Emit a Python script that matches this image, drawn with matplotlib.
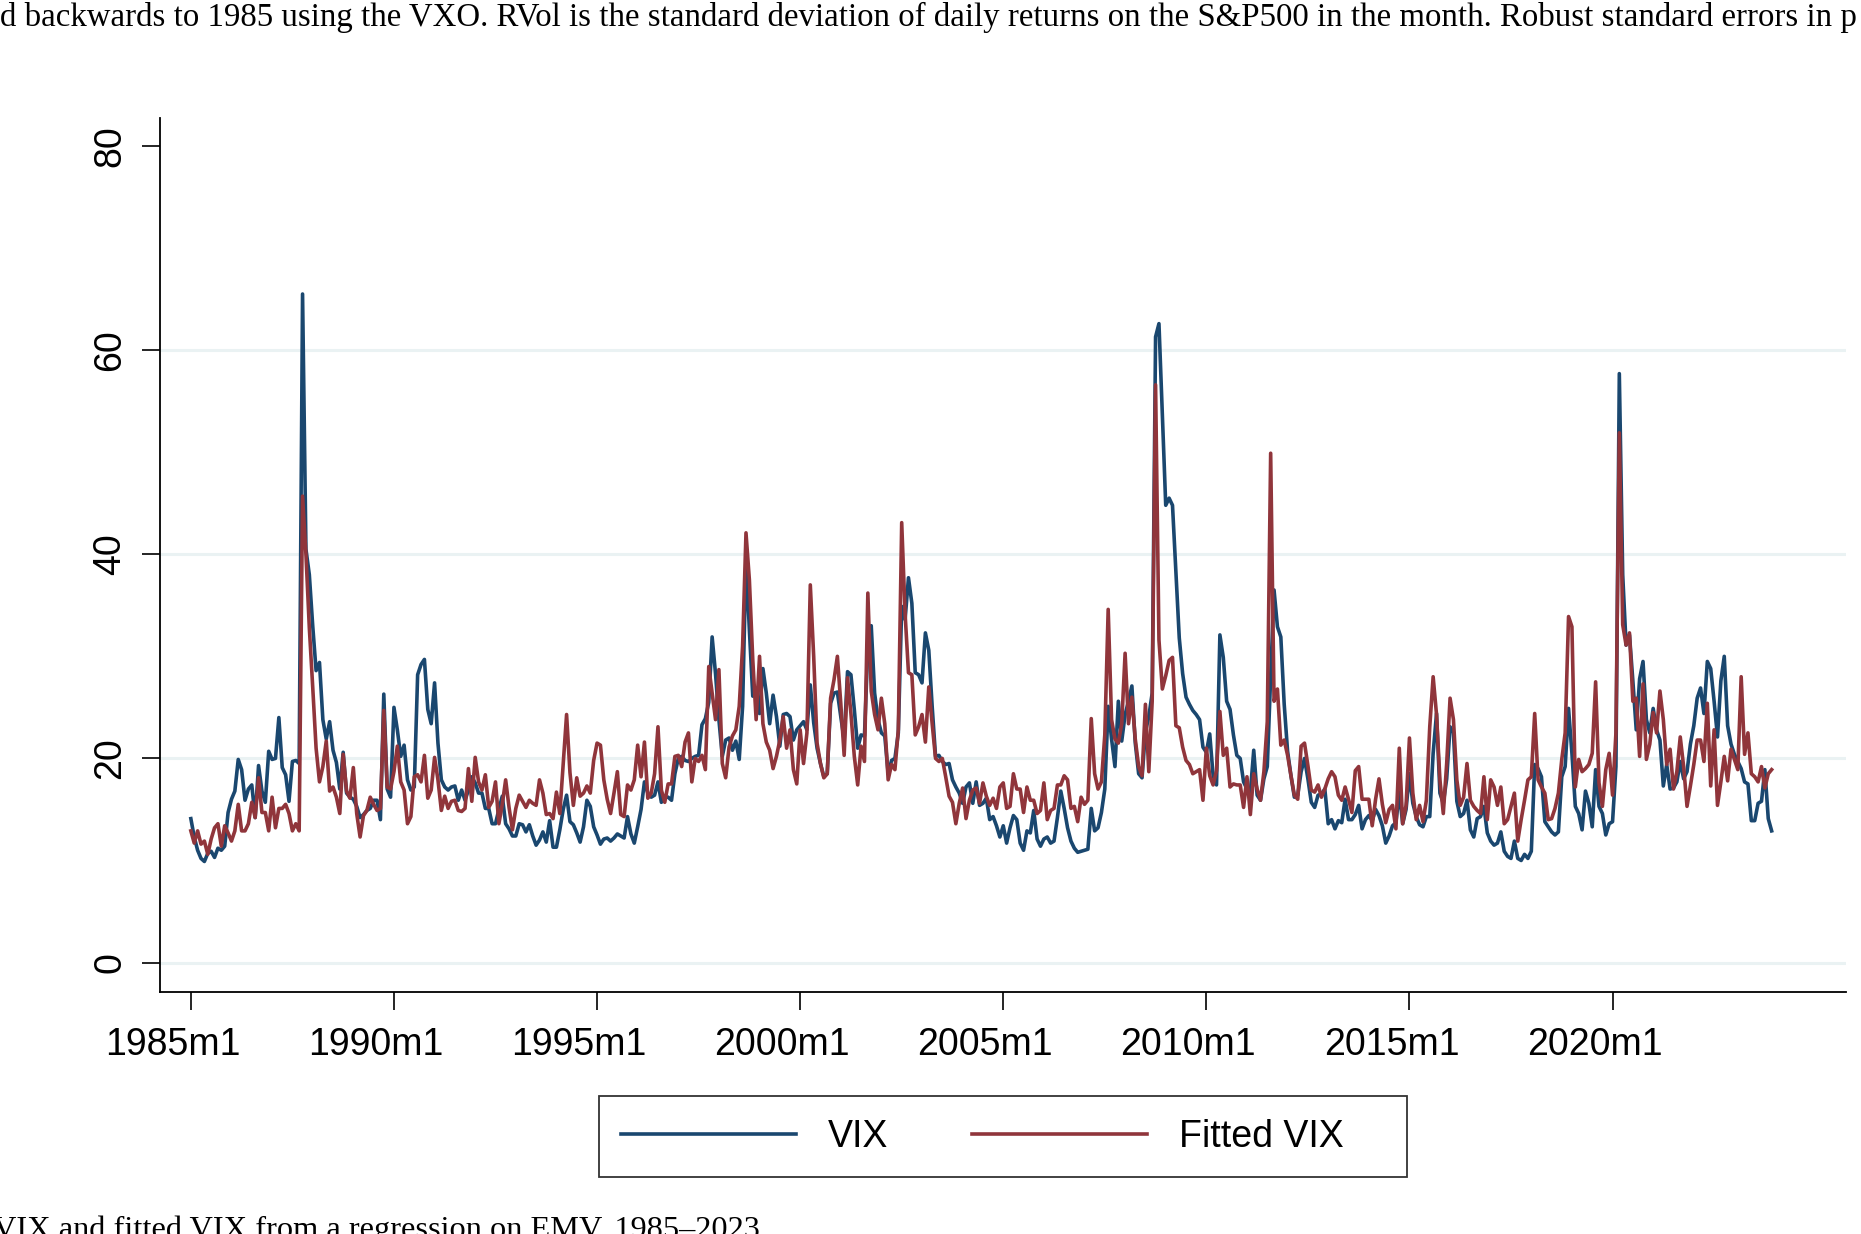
import matplotlib
matplotlib.use("Agg")
import matplotlib.pyplot as plt
from matplotlib.transforms import ScaledTranslation
import numpy as np

# ---- data (monthly, 1985m1 .. 2023m12) ----
years = list(range(1985, 2024))
tick_labels = ["1985m1", "1990m1", "1995m1", "2000m1", "2005m1", "2010m1", "2015m1", "2020m1"]
y_ticks = [0, 20, 40, 60, 80]

vix = [
    14.1, 12.3, 11.0, 10.2, 9.9, 10.7, 10.9, 10.3, 11.2, 11.0, 11.4, 14.7,   # 1985
    16.0, 16.8, 19.9, 18.9, 15.9, 17.0, 17.4, 14.2, 19.3, 16.8, 15.7, 20.7,  # 1986
    19.9, 20.0, 24.0, 19.1, 18.4, 15.8, 19.7, 19.8, 19.5, 65.5, 40.5, 38.0,  # 1987
    33.0, 28.6, 29.4, 23.8, 21.9, 23.6, 20.8, 19.6, 17.0, 20.6, 16.6, 16.2,  # 1988
    16.0, 15.3, 14.2, 14.5, 14.9, 15.1, 15.9, 15.9, 14.0, 26.3, 17.0, 16.2,  # 1989
    25.0, 22.8, 20.2, 21.3, 17.9, 16.9, 17.2, 28.2, 29.2, 29.7, 24.8, 23.4,  # 1990
    27.4, 21.5, 17.9, 17.2, 16.9, 17.2, 17.3, 15.9, 16.9, 15.9, 16.9, 18.2,  # 1991
    17.6, 16.6, 16.6, 15.1, 15.1, 13.6, 13.6, 15.0, 16.3, 13.6, 13.1, 12.4,  # 1992
    12.4, 13.6, 13.5, 12.8, 13.5, 12.4, 11.5, 12.0, 12.8, 11.8, 13.9, 11.3,  # 1993
    11.3, 13.0, 15.0, 16.4, 13.8, 13.5, 12.7, 11.8, 13.3, 15.9, 15.3, 13.3,  # 1994
    12.5, 11.6, 12.1, 12.2, 11.9, 12.2, 12.6, 12.4, 12.2, 14.3, 12.6, 11.7,  # 1995
    13.3, 15.0, 17.7, 16.6, 16.2, 16.4, 17.7, 15.7, 16.2, 16.2, 15.9, 18.5,  # 1996
    20.0, 20.2, 19.8, 19.7, 20.0, 20.2, 20.3, 23.3, 23.9, 25.5, 31.9, 28.3,  # 1997
    23.8, 20.2, 21.8, 22.0, 20.8, 21.7, 19.9, 25.1, 39.5, 32.6, 26.1, 26.4,  # 1998
    24.4, 28.8, 26.4, 23.4, 26.2, 24.1, 21.2, 24.3, 24.4, 24.1, 21.8, 22.8,  # 1999
    23.2, 23.6, 22.8, 27.2, 23.5, 21.0, 19.5, 18.2, 18.5, 25.4, 26.4, 26.5,  # 2000
    24.1, 21.8, 28.5, 28.2, 24.8, 21.0, 22.3, 22.2, 31.0, 33.0, 26.4, 23.8,  # 2001
    22.5, 22.2, 18.5, 19.8, 20.0, 22.5, 34.9, 33.6, 37.7, 35.2, 28.4, 28.2,  # 2002
    27.4, 32.3, 30.6, 25.1, 20.2, 20.3, 19.7, 19.4, 19.5, 17.9, 17.2, 16.6,  # 2003
    15.6, 17.2, 17.6, 15.6, 17.7, 15.4, 15.6, 16.1, 14.0, 14.3, 13.4, 12.3,  # 2004
    13.4, 11.7, 13.2, 14.4, 14.0, 11.7, 11.0, 12.9, 12.7, 14.9, 12.1, 11.4,  # 2005
    12.1, 12.3, 11.7, 11.9, 14.2, 16.8, 15.1, 13.2, 11.9, 11.2, 10.8, 10.9,  # 2006
    11.0, 11.1, 15.1, 12.9, 13.2, 14.7, 17.0, 25.1, 21.9, 19.2, 25.6, 21.7,  # 2007
    24.3, 25.6, 27.1, 21.5, 18.5, 18.1, 22.6, 24.1, 26.4, 61.3, 62.6, 53.8,  # 2008
    44.8, 45.5, 44.8, 38.4, 31.8, 28.3, 26.0, 25.3, 24.7, 24.3, 23.8, 21.1,  # 2009
    20.6, 22.4, 18.3, 17.4, 32.1, 29.9, 25.6, 24.8, 22.3, 20.3, 20.0, 17.7,  # 2010
    17.0, 16.7, 20.8, 16.4, 15.9, 18.0, 19.2, 28.0, 36.5, 32.9, 31.9, 25.3,  # 2011
    20.7, 18.3, 16.2, 16.4, 18.7, 20.0, 18.0, 15.7, 15.2, 16.4, 16.5, 17.0,  # 2012
    13.6, 14.0, 13.1, 13.9, 13.7, 16.0, 14.0, 14.0, 14.5, 15.4, 13.1, 14.0,  # 2013
    14.4, 13.9, 15.0, 14.4, 13.4, 11.7, 12.4, 13.4, 13.7, 16.7, 13.6, 15.0,  # 2014
    18.5, 15.6, 14.3, 13.5, 13.3, 14.3, 14.3, 20.5, 24.4, 16.6, 15.6, 18.0,  # 2015
    23.1, 22.5, 15.8, 14.3, 14.6, 15.9, 13.0, 12.3, 14.1, 14.3, 15.3, 12.7,  # 2016
    11.9, 11.5, 11.7, 12.8, 10.9, 10.4, 10.2, 11.9, 10.2, 10.0, 10.6, 10.2,  # 2017
    10.9, 19.4, 19.0, 18.2, 13.8, 13.3, 12.8, 12.5, 12.8, 18.2, 19.2, 24.9,  # 2018
    20.5, 15.3, 14.6, 13.0, 16.8, 15.6, 13.3, 18.9, 15.3, 14.6, 12.5, 13.6,  # 2019
    13.8, 19.2, 57.7, 38.0, 31.1, 32.1, 27.6, 22.8, 27.8, 29.5, 23.8, 22.5,  # 2020
    24.9, 22.8, 21.8, 17.3, 19.4, 17.0, 17.1, 17.7, 19.7, 18.0, 18.7, 21.4,  # 2021
    23.2, 25.9, 26.9, 24.4, 29.5, 28.8, 25.6, 22.1, 27.6, 30.0, 23.2, 21.4,  # 2022
    20.4, 19.7, 19.0, 17.7, 17.5, 13.9, 13.9, 15.6, 15.8, 18.9, 14.1, 12.9,  # 2023
]

fitted_vix = [
    12.9, 11.7, 12.9, 11.6, 11.9, 10.6, 12.1, 13.2, 13.6, 11.4, 13.4, 12.7,  # 1985
    11.9, 12.9, 15.5, 12.9, 12.9, 13.6, 15.7, 14.2, 18.1, 14.7, 14.7, 12.9,  # 1986
    16.2, 13.2, 15.1, 15.1, 15.5, 14.6, 12.9, 13.6, 12.9, 45.7, 40.0, 32.8,  # 1987
    27.0, 21.0, 17.7, 19.2, 21.7, 16.8, 17.2, 16.2, 14.6, 20.4, 16.8, 16.1,  # 1988
    19.1, 14.6, 12.3, 14.4, 14.9, 16.2, 15.5, 14.9, 15.1, 24.7, 17.2, 17.0,  # 1989
    18.7, 21.2, 17.7, 16.9, 13.6, 14.3, 18.2, 18.4, 17.7, 20.3, 16.1, 16.9,  # 1990
    20.1, 17.9, 14.9, 16.3, 15.1, 15.8, 15.9, 14.9, 14.8, 15.1, 19.0, 15.8,  # 1991
    20.1, 17.7, 16.9, 18.4, 15.2, 15.8, 17.7, 13.6, 15.5, 17.9, 15.2, 13.0,  # 1992
    15.1, 16.4, 15.8, 15.2, 15.9, 15.6, 15.4, 17.9, 16.6, 14.5, 14.6, 14.1,  # 1993
    16.7, 14.6, 19.5, 24.3, 18.6, 15.4, 18.1, 16.3, 16.6, 17.3, 16.6, 19.8,  # 1994
    21.5, 21.3, 17.9, 16.0, 14.6, 16.6, 18.7, 14.5, 14.3, 17.4, 16.9, 17.9,  # 1995
    21.3, 18.2, 21.6, 16.1, 16.6, 18.5, 23.1, 16.9, 15.7, 17.5, 17.5, 20.2,  # 1996
    20.3, 19.2, 21.6, 22.5, 17.7, 20.0, 19.7, 20.3, 18.9, 29.0, 26.4, 23.8,  # 1997
    28.7, 19.5, 18.1, 21.1, 22.2, 22.8, 25.1, 31.0, 42.1, 37.5, 29.7, 23.8,  # 1998
    30.0, 23.4, 21.6, 20.8, 19.0, 20.2, 21.8, 24.1, 21.0, 22.8, 18.9, 17.5,  # 1999
    22.8, 19.5, 22.5, 37.0, 30.0, 21.5, 19.5, 18.1, 18.5, 25.9, 27.7, 30.0,  # 2000
    25.4, 20.3, 27.9, 24.4, 20.2, 17.4, 21.2, 19.7, 36.2, 26.6, 24.3, 22.8,  # 2001
    25.9, 23.4, 17.9, 19.4, 18.9, 22.8, 43.1, 34.2, 28.4, 28.2, 22.3, 23.1,  # 2002
    24.3, 21.6, 27.0, 23.4, 20.0, 19.7, 20.0, 18.2, 16.3, 15.7, 13.6, 15.6,  # 2003
    17.1, 14.1, 15.9, 16.9, 17.1, 15.6, 17.6, 16.3, 15.4, 16.1, 15.1, 17.2,  # 2004
    17.6, 15.1, 15.3, 18.5, 17.0, 17.0, 14.7, 17.2, 15.9, 15.9, 14.6, 14.9,  # 2005
    17.6, 14.0, 14.9, 15.1, 17.4, 17.4, 18.3, 17.9, 15.1, 15.3, 13.8, 16.2,  # 2006
    15.5, 15.9, 23.9, 18.5, 17.0, 17.7, 22.3, 34.6, 23.8, 21.9, 21.5, 23.4,  # 2007
    30.3, 23.4, 26.0, 21.9, 19.2, 18.3, 25.3, 18.7, 25.6, 56.6, 31.6, 26.8,  # 2008
    28.1, 29.6, 29.9, 23.2, 23.0, 21.1, 19.8, 19.4, 18.5, 18.7, 18.9, 15.9,  # 2009
    21.0, 18.3, 17.4, 18.8, 24.6, 20.3, 21.0, 17.2, 17.5, 17.4, 17.4, 15.2,  # 2010
    18.2, 14.5, 18.5, 17.0, 15.9, 18.7, 23.6, 49.9, 25.6, 26.8, 21.3, 21.8,  # 2011
    20.3, 18.3, 16.4, 16.0, 21.2, 21.5, 19.3, 16.9, 16.7, 17.4, 16.2, 17.0,  # 2012
    18.0, 18.7, 18.2, 16.4, 15.9, 17.2, 16.0, 14.7, 18.8, 19.2, 16.0, 16.0,  # 2013
    16.0, 13.4, 16.0, 18.0, 15.5, 13.7, 15.0, 15.4, 13.1, 21.0, 13.6, 15.4,  # 2014
    22.0, 16.6, 14.0, 15.4, 13.8, 15.9, 23.1, 28.0, 24.3, 17.9, 14.6, 19.5,  # 2015
    25.9, 23.8, 17.9, 15.4, 16.2, 19.5, 15.9, 15.3, 14.9, 14.6, 18.2, 14.0,  # 2016
    17.9, 17.2, 15.4, 17.2, 13.6, 14.0, 15.3, 16.6, 11.9, 14.0, 15.9, 17.9,  # 2017
    18.2, 24.4, 17.9, 17.2, 16.6, 14.0, 14.1, 15.1, 16.6, 19.9, 22.5, 33.9,  # 2018
    32.9, 17.2, 19.9, 18.7, 19.0, 19.4, 20.5, 27.5, 17.6, 15.3, 18.9, 20.5,  # 2019
    16.4, 22.5, 51.9, 33.1, 31.1, 32.3, 25.6, 25.9, 20.2, 27.3, 19.9, 21.4,  # 2020
    24.5, 22.5, 26.6, 23.8, 19.4, 20.9, 17.0, 18.7, 22.1, 19.2, 15.3, 17.3,  # 2021
    19.4, 21.8, 21.8, 19.7, 25.4, 17.3, 22.8, 15.4, 17.7, 20.2, 17.8, 20.9,  # 2022
    19.9, 18.9, 28.0, 20.4, 22.5, 18.5, 18.2, 17.7, 19.2, 17.1, 18.5, 18.9,  # 2023
]

months = np.arange(len(vix))            # 0 = 1985m1
tick_pos = [(int(s[:4]) - 1985) * 12 for s in tick_labels]

BLUE = "#1a476f"
RED = "#90353b"
GRID = "#eaf2f3"

plt.rcParams["font.family"] = ["Liberation Sans", "DejaVu Sans"]

fig = plt.figure(figsize=(18.61, 12.34), dpi=100)
ax = fig.add_axes([0.086, 0.196, 0.906, 0.708])

ax.plot(months, vix, color=BLUE, lw=2.6, label="VIX", solid_joinstyle="round")
ax.plot(months, fitted_vix, color=RED, lw=2.6, label="Fitted VIX    ", solid_joinstyle="round")

ax.set_xlim(-9.1, 489)
ax.set_ylim(-2.9, 82.7)

for g in [0, 20, 40, 60]:
    ax.axhline(g, color=GRID, lw=2.2, zorder=0)

ax.set_yticks(y_ticks)
ax.set_yticklabels([str(v) for v in y_ticks], rotation=90, va="center", fontsize=27)
ax.set_xticks(tick_pos)
ax.set_xticklabels(tick_labels, fontsize=27)

ax.tick_params(axis="both", direction="out", length=13, width=1.2, color="black")
ax.tick_params(axis="y", pad=10)
ax.tick_params(axis="x", pad=12)

for lab in ax.get_xticklabels():
    lab.set_transform(lab.get_transform() + ScaledTranslation(-0.18, 0, fig.dpi_scale_trans))

for side in ["top", "right"]:
    ax.spines[side].set_visible(False)
for side in ["left", "bottom"]:
    ax.spines[side].set_linewidth(1.3)
    ax.spines[side].set_color("black")

leg = fig.legend(loc="center", bbox_to_anchor=(0.539, 0.0788), ncol=2, frameon=True,
                 fancybox=False, edgecolor="black", fontsize=27, handlelength=4.65,
                 handletextpad=0.85, columnspacing=2.25, borderpad=0.6, borderaxespad=0)
leg.get_frame().set_linewidth(1.3)

# clipped document text above and below the figure
fig.text(0.0, 0.9985,
         "d backwards to 1985 using the VXO. RVol is the standard deviation of daily returns on the S&P500 in the month. Robust standard errors in p",
         family=["Liberation Serif", "DejaVu Serif"], fontsize=23.7, va="top", ha="left")
fig.text(-0.004, 0.0150, "VIX and fitted VIX from a regression on EMV, 1985\u20132023.",
         family=["Liberation Serif", "DejaVu Serif"], fontsize=23.3, va="top", ha="left")

fig.savefig("out.png", dpi=100)
